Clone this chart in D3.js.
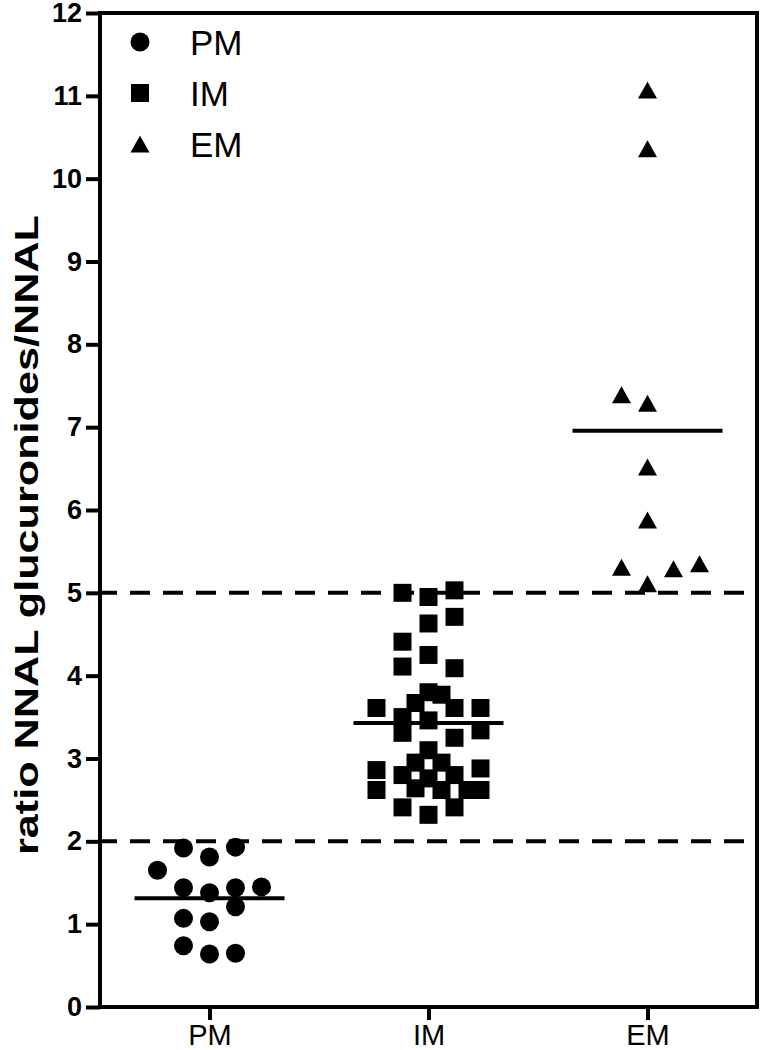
<!DOCTYPE html>
<html>
<head>
<meta charset="utf-8">
<script src="https://cdn.jsdelivr.net/npm/d3@7"></script>
<style>
  body { margin: 0; background: #fff; }
  svg text { font-family: Arial, "Liberation Sans", sans-serif; }
</style>
</head>
<body>
<div id="chart"></div>
<script>
// groups and y ticks
const groups = ["PM", "IM", "EM"];
const yTicks = [0, 1, 2, 3, 4, 5, 6, 7, 8, 9, 10, 11, 12];
const cutoffs = [2, 5];

// values, with the column each point was nudged into (half-marker units)
const pmValues = [1.92, 1.81, 1.93, 1.65, 1.44, 1.38, 1.44, 1.21, 1.45, 1.07, 1.03, 0.74, 0.64, 0.65];
const pmSlots  = [-2, 0, 2, -4, -2, 0, 2, 2, 4, -2, 0, -2, 0, 2];

const imValues = [5.00, 4.95, 5.03, 4.71, 4.63, 4.41, 4.25, 4.11, 4.09, 3.80, 3.77, 3.67,
                  3.61, 3.61, 3.61, 3.50, 3.46, 3.31, 3.34, 3.25, 3.10, 2.95, 2.95, 2.86,
                  2.88, 2.80, 2.76, 2.80, 2.62, 2.64, 2.62, 2.62, 2.62, 2.41, 2.41, 2.32];
const imSlots  = [-2, 0, 2, 2, 0, -2, 0, -2, 2, 0, 1, -1,
                  2, -4, 4, -2, 0, -2, 4, 2, 0, -1, 1, -4,
                  4, -2, 0, 2, -4, -1, 1, 3, 4, -2, 2, 0];

const emValues = [11.07, 10.36, 7.39, 7.29, 6.52, 5.88, 5.31, 5.29, 5.35, 5.11];
const emSlots  = [0, 0, -2, 0, 0, 0, -2, 2, 4, 0];

const W = 763, H = 1050;
const plotLeft = 100, plotRight = 757, plotTop = 13, plotBottom = 1007;

const svg = d3.select("#chart").append("svg")
    .attr("width", W)
    .attr("height", H);

const x = d3.scalePoint()
    .domain(groups)
    .range([plotLeft, plotRight])
    .padding(0.5);

const y = d3.scaleLinear()
    .domain([0, 12])
    .range([plotBottom, plotTop]);

// horizontal nudge for stacked points
const nudge = d3.scaleLinear().domain([-4, 4]).range([-52, 52]);

const data = [
    { group: "PM", shape: "circle", values: pmValues, slots: pmSlots },
    { group: "IM", shape: "square", values: imValues, slots: imSlots },
    { group: "EM", shape: "triangle", values: emValues, slots: emSlots }
];

function markerPath(shape) {
    const p = d3.path();
    if (shape === "circle") {
        p.arc(0, 0, 9.5, 0, 2 * Math.PI);
    } else if (shape === "square") {
        p.rect(-9, -9, 18, 18);
    } else {
        p.moveTo(0, -8.5);
        p.lineTo(9.5, 8.5);
        p.lineTo(-9.5, 8.5);
        p.closePath();
    }
    return p.toString();
}

// y axis
const yAxis = svg.append("g")
    .attr("transform", `translate(${plotLeft},0)`)
    .call(d3.axisLeft(y).tickValues(yTicks).tickSize(14).tickPadding(4));
yAxis.select(".domain").remove();
yAxis.selectAll("line").attr("stroke", "#000").attr("stroke-width", 4);
yAxis.selectAll("text")
    .style("font-size", "27px")
    .style("font-weight", "bold")
    .attr("fill", "#000");

// x axis
const xAxis = svg.append("g")
    .attr("transform", `translate(0,${plotBottom})`)
    .call(d3.axisBottom(x).tickSize(13).tickPadding(4));
xAxis.select(".domain").remove();
xAxis.selectAll("line").attr("stroke", "#000").attr("stroke-width", 4);
xAxis.selectAll("text")
    .style("font-size", "29px")
    .attr("fill", "#000");

// frame
svg.append("rect")
    .attr("x", plotLeft)
    .attr("y", plotTop)
    .attr("width", plotRight - plotLeft)
    .attr("height", plotBottom - plotTop)
    .attr("fill", "none")
    .attr("stroke", "#000")
    .attr("stroke-width", 4);

// y axis title (the original lettering is drawn long and narrow)
svg.append("text")
    .attr("transform", `translate(38,535) rotate(-90)`)
    .attr("text-anchor", "middle")
    .attr("textLength", 640)
    .attr("lengthAdjust", "spacingAndGlyphs")
    .style("font-size", "34px")
    .style("font-weight", "bold")
    .text("ratio NNAL glucuronides/NNAL");

// dashed cutoff lines
svg.selectAll(".cutoff")
    .data(cutoffs)
    .enter()
    .append("line")
    .attr("x1", plotLeft)
    .attr("x2", plotRight)
    .attr("y1", d => y(d))
    .attr("y2", d => y(d))
    .attr("stroke", "#000")
    .attr("stroke-width", 4)
    .attr("stroke-dasharray", "20,13")
    .attr("stroke-dashoffset", 3);

// points
data.forEach(g => {
    svg.append("g")
        .selectAll("path")
        .data(g.values.map((v, i) => ({ v, s: g.slots[i] })))
        .enter()
        .append("path")
        .attr("d", markerPath(g.shape))
        .attr("transform", d => `translate(${x(g.group) + nudge(d.s)},${y(d.v)})`)
        .attr("fill", "#000");

    // mean line
    const m = d3.mean(g.values);
    svg.append("line")
        .attr("x1", x(g.group) - 75)
        .attr("x2", x(g.group) + 75)
        .attr("y1", y(m))
        .attr("y2", y(m))
        .attr("stroke", "#000")
        .attr("stroke-width", 4);
});

// legend
const legend = svg.append("g");
data.forEach((g, i) => {
    const ly = 42 + i * 51;
    legend.append("path")
        .attr("d", markerPath(g.shape))
        .attr("transform", `translate(140,${ly})`)
        .attr("fill", "#000");
    legend.append("text")
        .attr("x", 190)
        .attr("y", ly)
        .attr("dy", "0.36em")
        .style("font-size", "35px")
        .text(g.group);
});
</script>
</body>
</html>
